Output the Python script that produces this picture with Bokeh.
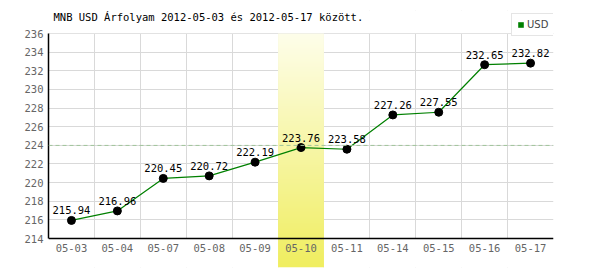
import numpy as np
from bokeh.plotting import figure
from bokeh.models import (FixedTicker, Range1d, Legend, LegendItem, Span, Label, ColumnDataSource)
from bokeh.embed import file_html
from bokeh.resources import INLINE
from bokeh.core.properties import value

# ---- data ----
dates = ["05-03", "05-04", "05-07", "05-08", "05-09", "05-10",
         "05-11", "05-14", "05-15", "05-16", "05-17"]
rates = [215.94, 216.96, 220.45, 220.72, 222.19, 223.76,
         223.58, 227.26, 227.55, 232.65, 232.82]
highlight = "05-10"
y_ticks = list(range(214, 237, 2))
title_text = "MNB USD Árfolyam 2012-05-03 és 2012-05-17 között."
series_name = "USD"

idx = list(range(len(dates)))
ymin, ymax = 214, 236
PX_PER_UNIT = 205 / 22
ybottom = ymin - 29 / PX_PER_UNIT   # frame extends below axis for highlight band
ytop = ymax + 23 / PX_PER_UNIT      # and above, for title/legend

MONO = "DejaVu Sans Mono"
GREEN = "#008000"

p = figure(width=600, height=270, frame_width=505, frame_height=257,
           x_range=Range1d(-0.5, len(dates) - 0.5),
           y_range=Range1d(ybottom, ytop),
           output_backend="svg", toolbar_location=None,
           min_border_left=48, min_border_right=47,
           min_border_top=10, min_border_bottom=3)
p.outline_line_color = None
p.background_fill_color = "white"

# grids
p.xgrid.ticker = FixedTicker(ticks=[i + 0.5 for i in idx])
p.ygrid.ticker = FixedTicker(ticks=y_ticks)
p.xgrid.grid_line_color = "#d9d9d9"
p.ygrid.grid_line_color = "#d9d9d9"

# white covers outside the value area
p.quad(left=[-0.5, -0.5], right=[len(dates) - 0.5] * 2,
       bottom=[ybottom, ymax + 0.02], top=[ymin, ytop],
       fill_color="white", line_color=None)

# highlight band with vertical gradient
hi = dates.index(highlight)
n = 234
top_c = np.array([254, 254, 234], dtype=float)
bot_c = np.array([240, 238, 96], dtype=float)
t = np.linspace(0, 1, n)[:, None]
cols = (bot_c * (1 - t) + top_c * t).astype(np.uint32)  # row 0 = bottom
img = np.empty((n, 1), dtype=np.uint32)
view = img.view(dtype=np.uint8).reshape((n, 1, 4))
view[:, 0, 0] = cols[:, 0]
view[:, 0, 1] = cols[:, 1]
view[:, 0, 2] = cols[:, 2]
view[:, 0, 3] = 255
p.image_rgba(image=[img], x=hi - 0.5, y=ybottom, dw=1, dh=ymax - ybottom)

# mean dashed line
mean = float(np.mean(rates))
p.add_layout(Span(location=mean, dimension="width", line_color="#a0c49a",
                  line_dash="4 3", line_width=1))

# legend swatch renderer: zero-area quad at the first point (invisible)
swatch = p.quad(left=[idx[0]], right=[idx[0]], top=[rates[0]], bottom=[rates[0]],
                fill_color=GREEN, line_color=None)

src = ColumnDataSource(dict(x=idx, y=rates, lab=[f"{r:.2f}" for r in rates]))
p.line("x", "y", source=src, line_color=GREEN, line_width=1.2)
p.scatter("x", "y", source=src, size=8, fill_color="black", line_color="black")
p.text("x", "y", text="lab", source=src, text_align="center",
       text_baseline="bottom", y_offset=-6, text_font=value(MONO),
       text_font_size="10.5px", text_color="black")

# axes
p.xaxis.fixed_location = ymin
p.xaxis.ticker = FixedTicker(ticks=idx)
p.xaxis.major_label_overrides = {i: d for i, d in zip(idx, dates)}
p.yaxis.ticker = FixedTicker(ticks=y_ticks)
p.yaxis.bounds = (ymin, ymax)
for ax in (p.xaxis[0], p.yaxis[0]):
    ax.major_tick_line_color = None
    ax.minor_tick_line_color = None
    ax.major_tick_out = 0
    ax.major_tick_in = 0
    ax.minor_tick_out = 0
    ax.axis_line_color = "black"
    ax.axis_line_width = 1.5
    ax.major_label_text_font = MONO
    ax.major_label_text_font_size = "10.5px"
    ax.major_label_text_color = "#666666"
    ax.major_label_standoff = 5

# title (inside the extended frame area)
p.add_layout(Label(x=5, y=245, x_units="screen", y_units="screen",
                   text=title_text, text_font=MONO, text_font_size="10.5px",
                   text_color="black", text_baseline="bottom"))

# legend
legend = Legend(items=[LegendItem(label=series_name, renderers=[swatch])],
                location=(463, 231), border_line_color="#cccccc",
                background_fill_color="white", background_fill_alpha=1,
                glyph_width=7, glyph_height=7, padding=5, margin=0,
                label_standoff=3, label_text_font_size="10px",
                label_text_color="#444444", label_height=10,
                label_text_font="DejaVu Sans")
p.add_layout(legend)

open("out.html", "w").write(file_html(p, INLINE))
